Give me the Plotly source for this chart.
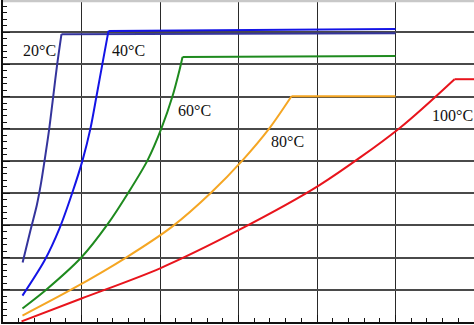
import plotly.graph_objects as go

x20 = [2.5, 3.5, 4.3, 4.8, 5.3, 5.9, 6.4, 6.9, 7.45, 50.0]
y20 = [18.5, 28.5, 36.2, 42.5, 50.2, 60.2, 70.1, 80.0, 89.4, 89.7]

x40 = [2.48, 5.29, 7.2, 8.85, 10.13, 11.15, 11.91, 12.68, 13.44, 50.0]
y40 = [8.2, 19.1, 29.1, 40.3, 50.2, 60.2, 70.1, 80.4, 90.4, 91.0]

x60 = [2.48, 5.54, 10.0, 13.31, 16.0, 18.41, 20.19, 21.59, 22.48, 22.87, 50.0]
y60 = [4.2, 10.1, 20.1, 30.3, 40.3, 50.2, 60.2, 70.1, 78.2, 82.3, 82.6]

x80 = [2.48, 8.73, 15.73, 21.59, 26.56, 30.51, 33.95, 36.75, 50.0]
y80 = [2.0, 10.1, 20.1, 29.7, 40.3, 50.2, 60.2, 70.1, 70.1]

x100 = [2.36, 10.0, 19.94, 30.0, 40.32, 50.51, 57.52, 60.0]
y100 = [0.2, 7.3, 16.6, 28.5, 42.5, 60.2, 75.4, 75.4]

labels = ["20°C", "40°C", "60°C", "80°C", "100°C"]
label_x = [4.65, 16.0, 24.4, 36.2, 57.3]
label_y = [84.4, 84.4, 65.8, 56.2, 64.2]

series = [(x20, y20, "#34349c"), (x40, y40, "#1414e6"), (x60, y60, "#1e8a1e"),
          (x80, y80, "#f5a623"), (x100, y100, "#e8141c")]

fig = go.Figure()
for xs, ys, c in series:
    # rising (curved) part
    fig.add_trace(go.Scatter(x=xs[:-1], y=ys[:-1], mode="lines",
                             line=dict(color=c, width=2, shape="spline", smoothing=0.8),
                             showlegend=False, hoverinfo="skip"))
    # flat (saturated) part
    fig.add_trace(go.Scatter(x=xs[-2:], y=ys[-2:], mode="lines",
                             line=dict(color=c, width=2),
                             showlegend=False, hoverinfo="skip"))

for t, lx, ly in zip(labels, label_x, label_y):
    fig.add_annotation(x=lx, y=ly, text=t, showarrow=False,
                       font=dict(family="Liberation Serif", size=16, color="#111"))

fig.add_shape(type="rect", xref="paper", yref="paper", x0=0, x1=1, y0=0.993, y1=1.0,
              fillcolor="#c8c8c8", line=dict(width=0), layer="above")

fig.update_xaxes(range=[0, 60], dtick=10, showticklabels=False, showgrid=True,
                 gridcolor="#2a2a2a", gridwidth=1.3, zeroline=False,
                 showline=True, linecolor="#111", linewidth=1.5,
                 ticks="inside", ticklen=7, tickcolor="#111", tickwidth=1.3,
                 minor=dict(dtick=2, ticks="inside", ticklen=4, tickcolor="#111", showgrid=False))
fig.update_yaxes(range=[0, 100], dtick=10, showticklabels=False, showgrid=True,
                 gridcolor="#4a4a4a", gridwidth=1.6, zeroline=False,
                 showline=True, linecolor="#111", linewidth=1.5,
                 ticks="inside", ticklen=7, tickcolor="#111", tickwidth=1.3,
                 minor=dict(dtick=2, ticks="inside", ticklen=4, tickcolor="#111", showgrid=False))

fig.update_layout(width=474, height=325, margin=dict(l=3, r=0, t=0, b=3, pad=0, autoexpand=False),
                  paper_bgcolor="white", plot_bgcolor="white")

fig.write_html("out.html")
